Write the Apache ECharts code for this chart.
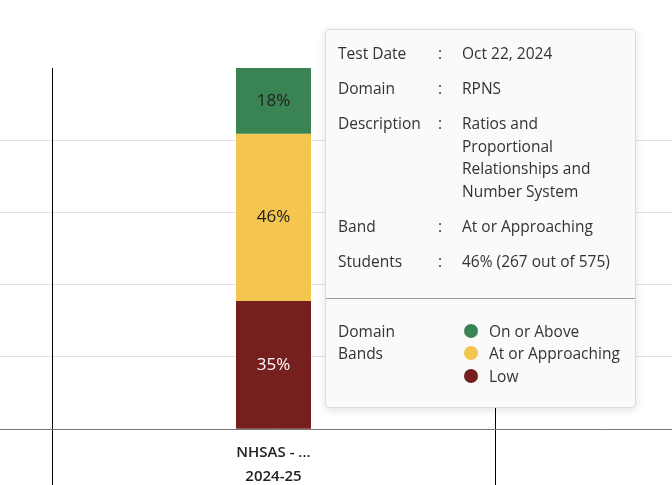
<!DOCTYPE html>
<html>
<head>
<meta charset="utf-8">
<script src="https://cdn.jsdelivr.net/npm/echarts@6/dist/echarts.min.js"></script>
<style>
  html, body { margin: 0; padding: 0; background: #fff; overflow: hidden; width: 672px; height: 485px; }
  #wrap { position: relative; width: 672px; height: 485px; overflow: hidden; }
  /* the chart is wider than the window: only the middle category is in view */
  #main { position: absolute; left: -391px; top: 0; width: 1329px; height: 560px; }
</style>
</head>
<body>
<div id="wrap"><div id="main"></div></div>
<script>
// categories: only the middle one is visible in the crop
var categories = ['', 'NHSAS - ...', ''];
var years = ['', '2024-25', ''];
var bandNames = ['Low', 'At or Approaching', 'On or Above'];
var bandColors = ['#75201f', '#f4c54f', '#3a8453'];
var labelColors = ['#ffffff', '#222222', '#222222'];
// percent of students per band
var lowPct = [null, 35.4, null];
var approachPct = [null, 46.4, null];
var abovePct = [null, 18.2, null];
var approachCount = [null, 267, null];
var totalStudents = [null, 575, null];
var testDate = 'Oct 22, 2024';
var domainCode = 'RPNS';
var descriptionLines = ['Ratios and', 'Proportional', 'Relationships and', 'Number System'];

var chart = echarts.init(document.getElementById('main'));

function rowHtml(label, value) {
  return '<div style="display:flex;line-height:22.5px;margin-bottom:12.5px">' +
    '<div style="width:100px">' + label + '</div>' +
    '<div style="width:24px">:</div>' +
    '<div style="flex:1">' + value + '</div></div>';
}

function tipFormatter(p) {
  var i = p.dataIndex;
  var pct = Math.round(p.value);
  var html = '<div style="width:309px;font-family:\'Open Sans\';font-size:15.5px;color:#333;">';
  html += '<div style="padding:12px 12px 1px 12px">';
  html += rowHtml('Test Date', testDate);
  html += rowHtml('Domain', domainCode);
  html += rowHtml('Description', descriptionLines.join('<br>'));
  html += rowHtml('Band', p.seriesName);
  html += rowHtml('Students', pct + '% (' + approachCount[i] + ' out of ' + totalStudents[i] + ')');
  html += '</div>';
  html += '<div style="border-top:1px solid #999;margin-top:12px"></div>';
  html += '<div style="display:flex;padding:21px 12px 20px 12px;line-height:22.5px">';
  html += '<div style="width:124px">Domain<br>Bands</div><div>';
  for (var k = bandNames.length - 1; k >= 0; k--) {
    html += '<div style="display:flex;align-items:center">' +
      '<span style="display:inline-block;width:14px;height:14px;border-radius:7px;margin:0 11px 0 2px;background:' +
      bandColors[k] + '"></span>' + bandNames[k] + '</div>';
  }
  html += '</div></div></div>';
  return html;
}

function makeSeries(name, data, idx) {
  return {
    name: name,
    type: 'bar',
    stack: 'bands',
    barWidth: 75,
    data: data,
    itemStyle: { color: bandColors[idx] },
    label: {
      show: true,
      position: 'inside',
      fontFamily: 'Open Sans',
      fontSize: 17,
      color: labelColors[idx],
      formatter: function (q) { return Math.round(q.value) + '%'; }
    }
  };
}

chart.setOption({
  animation: false,
  grid: { left: 0, right: 0, top: 68, bottom: 59 },
  tooltip: {
    trigger: 'item',
    alwaysShowContent: true,
    triggerOn: 'none',
    position: [716, 29],
    transitionDuration: 0,
    padding: 0,
    backgroundColor: '#fafafa',
    borderColor: '#dcdcdc',
    borderWidth: 1,
    extraCssText: 'border-radius:4px;box-shadow:0 2px 8px rgba(0,0,0,0.12);',
    formatter: tipFormatter
  },
  xAxis: {
    type: 'category',
    data: categories,
    offset: -72,
    axisLine: { onZero: false, lineStyle: { color: '#777', width: 1 } },
    axisTick: { alignWithLabel: true, length: 6, lineStyle: { color: '#777' } },
    splitLine: { show: true, lineStyle: { color: '#000', width: 1 } },
    axisLabel: {
      margin: 12,
      fontFamily: 'Open Sans',
      fontSize: 15,
      fontWeight: 600,
      color: '#222',
      lineHeight: 24,
      formatter: function (v, i) { return v ? v + '\n' + years[i] : ''; }
    }
  },
  yAxis: {
    type: 'value',
    min: -20,
    max: 100,
    interval: 20,
    axisLine: { show: false },
    axisTick: { show: false },
    axisLabel: { show: false },
    splitLine: { show: true, showMaxLine: false, lineStyle: { color: '#e2e2e2' } }
  },
  series: [
    makeSeries(bandNames[0], lowPct, 0),
    makeSeries(bandNames[1], approachPct, 1),
    makeSeries(bandNames[2], abovePct, 2)
  ]
});

chart.dispatchAction({ type: 'showTip', seriesIndex: 1, dataIndex: 1 });
</script>
</body>
</html>
